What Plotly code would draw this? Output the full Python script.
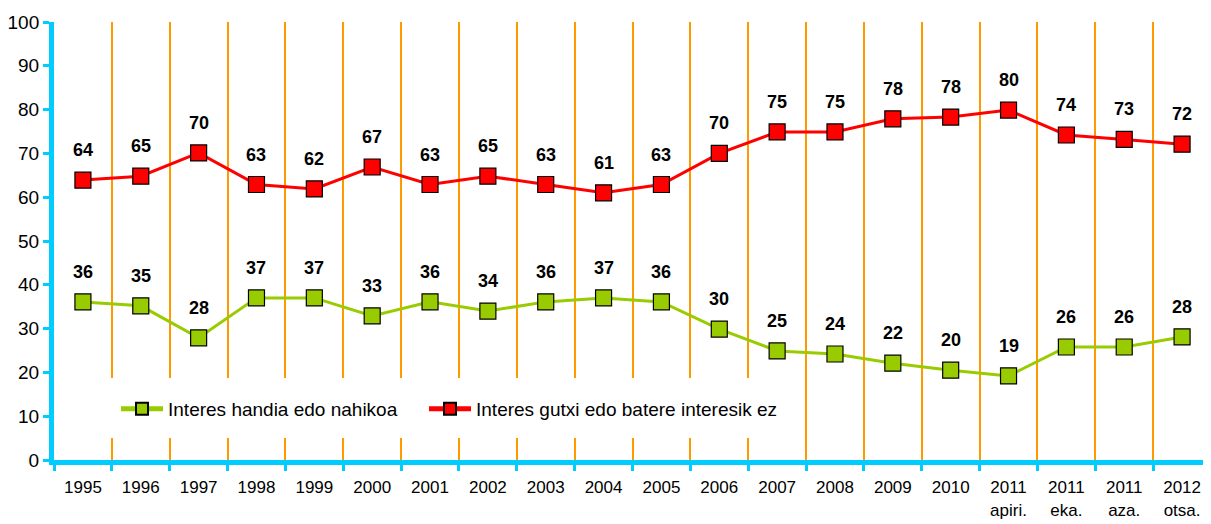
import plotly.graph_objects as go

# categories (x axis)
years = ["1995", "1996", "1997", "1998", "1999", "2000", "2001", "2002", "2003",
         "2004", "2005", "2006", "2007", "2008", "2009", "2010",
         "2011<br>apiri.", "2011<br>eka.", "2011<br>aza.", "2012<br>otsa."]

# series values
handia = [36.1, 35.2, 27.9, 37.0, 37.0, 32.9, 36.1, 34.0, 36.1, 37.0, 36.1,
          29.9, 24.9, 24.2, 22.1, 20.5, 19.2, 25.8, 25.8, 28.1]
gutxi = [63.9, 64.8, 70.1, 62.9, 61.9, 66.9, 62.9, 64.8, 62.9, 61.0, 62.9,
         70.0, 74.9, 74.9, 77.9, 78.3, 79.9, 74.2, 73.2, 72.1]

name_handia = "Interes handia edo nahikoa"
name_gutxi = "Interes gutxi edo batere interesik ez"

GREEN = "#99CC00"
RED = "#FF0000"
CYAN = "#00CCFF"
ORANGE = "#FF9900"
FONT = "Liberation Sans, Arial, sans-serif"

fig = go.Figure()

for name, vals, col, leg in [(name_handia, handia, GREEN, "legend"),
                             (name_gutxi, gutxi, RED, "legend2")]:
    fig.add_trace(go.Scatter(
        x=years, y=vals, name=name, mode="lines+markers", legend=leg,
        line=dict(color=col, width=3),
        marker=dict(symbol="square", size=16, color=col,
                    line=dict(color="#000000", width=1.2)),
    ))

# data labels above the markers (x given as category index)
annots = []
for vals in (handia, gutxi):
    for i, yv in enumerate(vals):
        annots.append(dict(
            x=i, y=yv, text="<b>%d</b>" % round(yv), showarrow=False,
            yshift=30, font=dict(family=FONT, size=18, color="#000000"),
            xanchor="center", yanchor="middle",
        ))

legend_style = dict(
    orientation="h", xanchor="left", yanchor="top", y=0.16,
    bgcolor="rgba(0,0,0,0)", font=dict(family=FONT, size=19, color="#000000"),
    itemwidth=42, itemsizing="constant",
)

# page body has an 8px margin, so the figure is 8px smaller than the window
fig.update_layout(
    width=1203, height=516,
    margin=dict(l=46, r=0, t=14, b=64),
    paper_bgcolor="white", plot_bgcolor="white",
    font=dict(family=FONT, size=17, color="#000000"),
    showlegend=True,
    legend=dict(x=0.0536, **legend_style),
    legend2=dict(x=0.3198, **legend_style),
    annotations=annots,
    # white backing behind the legend, hiding the grid there
    shapes=[dict(type="rect", xref="x domain", yref="y domain",
                 x0=0.04, x1=0.636, y0=0.05, y1=0.187,
                 fillcolor="white", line=dict(width=0), layer="above")],
)

fig.update_xaxes(
    type="category", tickson="boundaries", automargin=False,
    showgrid=True, gridcolor=ORANGE, gridwidth=1.6,
    showline=True, linecolor=CYAN, linewidth=5,
    ticks="outside", tickcolor=CYAN, tickwidth=3, ticklen=6,
    ticklabelstandoff=8,
    tickfont=dict(family=FONT, size=17, color="#000000"),
    range=[-0.5, len(years) - 0.5],
)
fig.update_yaxes(
    range=[0, 100], dtick=10, showgrid=False, zeroline=False, automargin=False,
    showline=True, linecolor=CYAN, linewidth=5,
    ticks="outside", tickcolor=CYAN, tickwidth=3, ticklen=6,
    tickfont=dict(family=FONT, size=19, color="#000000"),
)

fig.write_html("out.html")
